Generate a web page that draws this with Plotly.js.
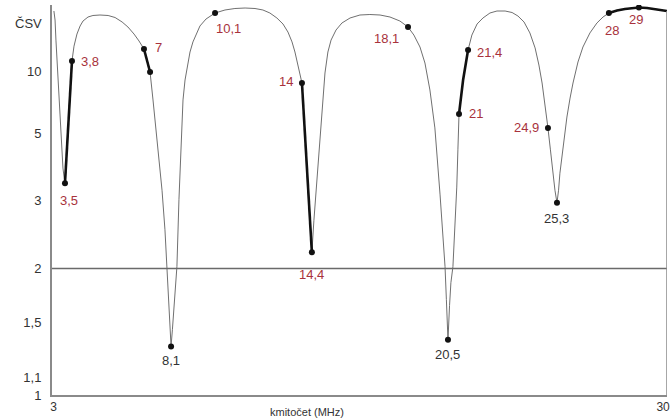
<!DOCTYPE html>
<html>
<head>
<meta charset="utf-8">
<script src="https://cdn.plot.ly/plotly-3.0.1.min.js"></script>
<style>html,body{margin:0;padding:0;background:#fff}#chart{width:671px;height:420px}</style>
</head>
<body>
<div id="chart"></div>
<script>
// ---- data: frequency (MHz) and SWR (ČSV) ----
const curveFreq = [
  3.01, 3.06, 3.10, 3.15, 3.19, 3.24, 3.28, 3.32, 3.37, 3.41,
  3.46, 3.50, 3.66, 3.81, 3.90, 4.03, 4.17, 4.30, 4.52, 4.74,
  5.05, 5.41, 5.72, 6.03, 6.29, 6.56, 6.78, 7.00, 7.13, 7.27,
  7.40, 7.53, 7.67, 7.80, 7.93, 8.02, 8.11, 8.15, 8.20, 8.26,
  8.33, 8.40, 8.46, 8.55, 8.64, 8.73, 8.82, 8.91, 9.04, 9.17,
  9.35, 9.48, 9.75, 10.15, 10.59, 11.03, 11.48, 11.92, 12.27, 12.58,
  12.89, 13.16, 13.38, 13.56, 13.69, 13.82, 13.91, 14.00, 14.22, 14.44,
  14.53, 14.62, 14.71, 14.80, 14.89, 15.02, 15.15, 15.29, 15.51, 15.77,
  16.13, 16.57, 17.01, 17.46, 17.90, 18.34, 18.70, 18.96, 19.23, 19.45,
  19.67, 19.89, 20.12, 20.25, 20.34, 20.40, 20.47, 20.54, 20.60, 20.69,
  20.78, 20.86, 20.91, 20.96, 21.14, 21.36, 21.53, 21.76, 22.02, 22.33,
  22.64, 23.00, 23.31, 23.57, 23.84, 24.10, 24.33, 24.50, 24.64, 24.77,
  24.90, 25.01, 25.12, 25.21, 25.30, 25.37, 25.43, 25.57, 25.74, 25.88,
  26.01, 26.23, 26.45, 26.76, 27.07, 27.34, 27.60, 27.96, 28.31, 28.62,
  28.93, 29.29, 29.64, 29.91, 30.17
];
const curveSwr = [
  60.5, 35.6, 18.2, 12.05, 8.88, 6.95, 5.64, 4.71, 4.17, 3.77,
  3.53, 3.38, 5.64, 11.85, 15.8, 21.4, 27.8, 34.0, 41.3, 44.9,
  46.2, 44.9, 40.2, 32.6, 26.8, 21.4, 17.8, 14.86, 12.27, 9.94,
  6.95, 5.14, 4.01, 3.22, 2.50, 2.02, 1.64, 1.48, 1.31, 1.44,
  1.64, 1.83, 2.02, 3.02, 4.34, 6.95, 8.88, 10.73, 13.98, 17.4,
  22.7, 27.8, 37.3, 52.4, 65.6, 74.9, 78.6, 74.9, 65.6, 52.4,
  39.2, 30.0, 22.7, 17.4, 13.98, 11.27, 9.80, 8.53, 3.80, 2.19,
  2.65, 3.12, 3.72, 4.71, 6.24, 9.80, 13.98, 18.2, 24.2, 31.2,
  39.2, 46.2, 47.6, 46.2, 41.3, 34.0, 26.8, 20.8, 15.5, 11.45,
  7.81, 5.24, 3.12, 2.35, 2.02, 1.69, 1.36, 1.64, 1.85, 2.02,
  2.50, 3.29, 4.34, 5.99, 8.88, 14.56, 20.8, 30.0, 39.2, 52.4,
  60.5, 60.5, 54.2, 43.6, 32.6, 22.1, 15.2, 11.08, 8.53, 6.72,
  5.24, 4.34, 3.63, 3.22, 2.96, 3.22, 3.63, 4.52, 5.81, 7.10,
  8.53, 11.65, 15.5, 22.1, 31.2, 41.3, 52.4, 62.9, 71.5, 78.6,
  82.7, 78.6, 71.5, 65.6, 60.5
];
// amateur bands drawn with a thick line (MHz, as placed in the picture)
const bandLo = [3.50, 7.00, 14.00, 20.96, 27.60];
const bandHi = [3.81, 7.27, 14.44, 21.36, 30.17];
// marked points
const markFreq  = [3.50, 3.81, 7.00, 7.27, 8.20, 10.15, 14.00, 14.44, 18.70, 20.47, 20.96, 21.36, 24.90, 25.30, 27.60, 28.93];
const markSwr   = [3.38, 11.85, 14.86, 9.94, 1.31, 52.4, 8.53, 2.19, 26.8, 1.36, 5.99, 14.56, 5.24, 2.96, 52.4, 82.7];
const markLabel = ['3,5','3,8','7','','8,1','10,1','14','14,4','18,1','20,5','21','21,4','24,9','25,3','28','29'];
const markKind  = ['band','band','band','band','dip','band','band','band','band','dip','band','band','band','dip','band','band'];
// axes
const yTickVals = [1, 1.1, 1.5, 2, 3, 5, 10];
const yTickText = ['1', '1,1', '1,5', '2', '3', '5', '10'];
const xTickVals = [3, 30];
const xTickText = ['3', '30'];
const refSwr = 2;

// ---- SWR scale: linear in reflection coefficient ----
function swrScale(s) {
  const g = (s - 1) / (s + 1);
  return g < 0.2 ? 362 * g : 406 * g - 8.8;
}

// label placement (style only)
const labelPos = [
  ['center', 4, -17], ['left', 7, -1], ['left', 9, 2], null,
  ['center', 0, -14], ['center', 13, -15], ['right', -7, 2], ['center', 0, -22],
  ['center', -22, -11], ['center', 0, -15], ['left', 8, 0], ['left', 7, -3],
  ['right', -7, 0], ['center', 0, -16], ['center', 3, -17], ['center', -3, -12]
];

const FONT = 'Liberation Sans, Arial, sans-serif';
const RED = '#a8323c';
const XMAX = 30.175, XMIN = 2.925;

const traces = [];
traces.push({
  x: curveFreq, y: curveSwr.map(swrScale), mode: 'lines', type: 'scatter',
  line: {color: '#707070', width: 1}, hoverinfo: 'skip', showlegend: false
});
for (let b = 0; b < bandLo.length; b++) {
  const xs = [], ys = [];
  for (let i = 0; i < curveFreq.length; i++) {
    if (curveFreq[i] >= bandLo[b] - 1e-6 && curveFreq[i] <= bandHi[b] + 1e-6) {
      xs.push(curveFreq[i]); ys.push(swrScale(curveSwr[i]));
    }
  }
  traces.push({x: xs, y: ys, mode: 'lines', type: 'scatter',
    line: {color: '#111', width: 2.6}, hoverinfo: 'skip', showlegend: false});
}
traces.push({
  x: markFreq, y: markSwr.map(swrScale), mode: 'markers', type: 'scatter',
  marker: {color: '#111', size: 6}, hoverinfo: 'skip', showlegend: false
});

const annotations = [];
for (let i = 0; i < markFreq.length; i++) {
  if (!markLabel[i]) continue;
  const p = labelPos[i];
  annotations.push({
    x: markFreq[i], y: swrScale(markSwr[i]), xref: 'x', yref: 'y',
    text: markLabel[i], showarrow: false, xanchor: p[0], yanchor: 'middle',
    xshift: p[1], yshift: p[2],
    font: {family: FONT, size: 13, color: markKind[i] === 'band' ? RED : '#333'}
  });
}
annotations.push({
  x: 0, xref: 'paper', y: swrScale(1e9) - 26, yref: 'y', text: 'ČSV', showarrow: false,
  xanchor: 'right', xshift: -8, yanchor: 'middle',
  font: {family: FONT, size: 13, color: '#333'}
});
annotations.push({
  x: 0.415, xref: 'paper', y: 0, yref: 'paper', yshift: -17, text: 'kmitočet (MHz)', showarrow: false,
  xanchor: 'center', yanchor: 'middle',
  font: {family: FONT, size: 11, color: '#333'}
});

const layout = {
  width: 671, height: 420,
  margin: {l: 52, r: 4, t: 5, b: 25, pad: 0},
  paper_bgcolor: '#fff', plot_bgcolor: '#fff',
  showlegend: false,
  xaxis: {
    range: [XMIN, XMAX], tickvals: xTickVals, ticktext: xTickText,
    showgrid: false, zeroline: false, showline: true, linecolor: '#8a8a8a', linewidth: 2,
    ticks: '', tickfont: {family: FONT, size: 12, color: '#333'}, fixedrange: true
  },
  yaxis: {
    range: [0, 390], tickvals: yTickVals.map(swrScale), ticktext: yTickText,
    showgrid: false, zeroline: false, showline: true, linecolor: '#8a8a8a', linewidth: 2,
    ticks: '', ticklabelstandoff: 6, tickfont: {family: FONT, size: 13, color: '#333'}, fixedrange: true
  },
  shapes: [
    {type: 'line', xref: 'paper', x0: 0, x1: 1, yref: 'y', y0: swrScale(refSwr), y1: swrScale(refSwr),
     line: {color: '#6a6a6a', width: 1.5}},
    {type: 'line', xref: 'x', x0: XMAX, x1: XMAX, yref: 'y', y0: 0, y1: swrScale(curveSwr[curveSwr.length - 1]),
     line: {color: '#8a8a8a', width: 1.5}}
  ],
  annotations: annotations
};

Plotly.newPlot('chart', traces, layout, {displayModeBar: false, staticPlot: true});
</script>
</body>
</html>
